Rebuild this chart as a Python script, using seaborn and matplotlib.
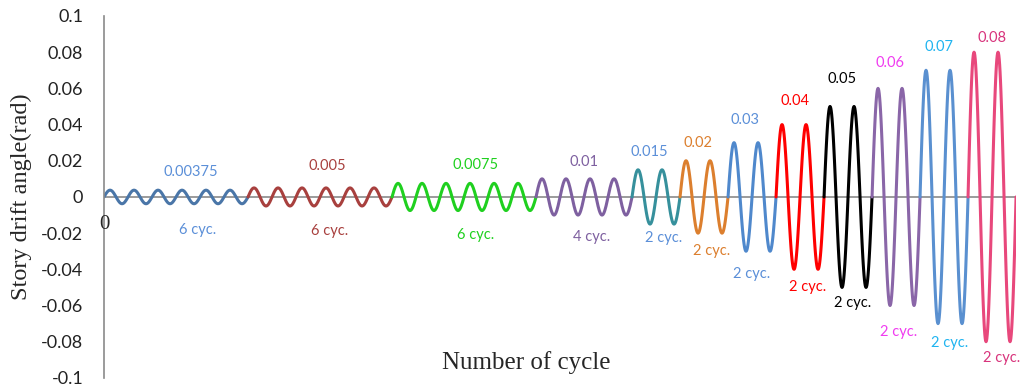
import numpy as np
import pandas as pd
import matplotlib
matplotlib.use("Agg")
import matplotlib.pyplot as plt
import seaborn as sns

# loading protocol: drift amplitude per step and number of cycles
amplitudes = [0.00375, 0.005, 0.0075, 0.01, 0.015, 0.02, 0.03, 0.04, 0.05, 0.06, 0.07, 0.08]
cycles = [6, 6, 6, 4, 2, 2, 2, 2, 2, 2, 2, 2]
amp_labels = ["0.00375", "0.005", "0.0075", "0.01", "0.015", "0.02",
              "0.03", "0.04", "0.05", "0.06", "0.07", "0.08"]
cyc_labels = ["6 cyc.", "6 cyc.", "6 cyc.", "4 cyc.", "2 cyc.", "2 cyc.",
              "2 cyc.", "2 cyc.", "2 cyc.", "2 cyc.", "2 cyc.", "2 cyc."]
line_colors = ["#4a76a8", "#a8403e", "#1fd01f", "#7e60a0", "#36909c", "#dc7f2e",
               "#4f88cc", "#ff0000", "#000000", "#8a66a8", "#5a90d0", "#e8487c"]
amp_colors = ["#5b8fd8", "#a8403e", "#1fd01f", "#7e60a0", "#5b8fd8", "#dc7f2e",
              "#5b8fd8", "#ff0000", "#000000", "#f03cf0", "#20b4f0", "#d8347c"]
cyc_colors = ["#5b8fd8", "#a8403e", "#1fd01f", "#7e60a0", "#5b8fd8", "#dc7f2e",
              "#5b8fd8", "#ff0000", "#000000", "#f03cf0", "#20b4f0", "#d8347c"]
# label positions (cycle number, drift)
amp_pos = [(3.6, 0.0138), (9.3, 0.017), (15.5, 0.0177), (20.0, 0.0193), (22.7, 0.0248),
           (24.75, 0.0298), (26.7, 0.0425), (28.8, 0.053), (30.75, 0.065),
           (32.75, 0.074), (34.8, 0.0828), (37.0, 0.0878)]
cyc_pos = [(3.9, -0.018), (9.4, -0.019), (15.5, -0.021), (20.3, -0.022), (23.3, -0.0227),
           (25.3, -0.0298), (27.0, -0.0425), (29.3, -0.050), (31.2, -0.0586),
           (33.1, -0.0745), (35.25, -0.0806), (37.4, -0.089)]

# build the sine history segment by segment
rows = []
start = 0
for i, (a, n) in enumerate(zip(amplitudes, cycles)):
    t = np.linspace(0, n, n * 60 + 1)
    for tt in t:
        rows.append((start + tt, a * np.sin(2 * np.pi * tt), i))
    start += n
df = pd.DataFrame(rows, columns=["cycle", "drift", "step"])

sns.set_style("white")
plt.rcParams["font.family"] = ["Liberation Serif", "DejaVu Serif"]

fig = plt.figure(figsize=(10.23, 3.9), dpi=100)
ax = fig.add_axes([0.1017, 0.031, 0.8915, 0.928])

ax.axhline(0, color="#8a8a8a", lw=1.2, zorder=1)
sns.lineplot(data=df, x="cycle", y="drift", hue="step", palette=line_colors,
             sort=False, estimator=None, lw=2.2, legend=False, ax=ax, zorder=2)

ax.set_xlim(0, start)
ax.set_ylim(-0.1, 0.1)
ax.set_xticks([])
yt = np.round(np.arange(-0.1, 0.1001, 0.02), 2)
ax.set_yticks(yt)
ax.set_yticklabels([("%g" % v) if v != 0 else "0" for v in yt],
                   fontsize=13, family="Lato", color="#222222")
ax.tick_params(axis="y", length=0, pad=15)
for s in ["top", "right", "bottom"]:
    ax.spines[s].set_visible(False)
ax.spines["left"].set_color("#8a8a8a")
ax.spines["left"].set_linewidth(1.2)
ax.set_xlabel("")
ax.set_ylabel("")

for i in range(len(amplitudes)):
    ax.text(*amp_pos[i], amp_labels[i], color=amp_colors[i], family="Lato",
            fontsize=10.5, ha="center", va="center")
    ax.text(*cyc_pos[i], cyc_labels[i], color=cyc_colors[i], family="Lato",
            fontsize=10.5, ha="center", va="center")

ax.text(0, -0.0155, "0", fontsize=15, ha="center", va="center")
ax.text(17.6, -0.0917, "Number of cycle", fontsize=18, ha="center", va="center")
fig.text(0.021, 0.495, "Story drift angle(rad)", fontsize=17.5, rotation=90,
         ha="center", va="center")

fig.savefig("out.png", dpi=100)
